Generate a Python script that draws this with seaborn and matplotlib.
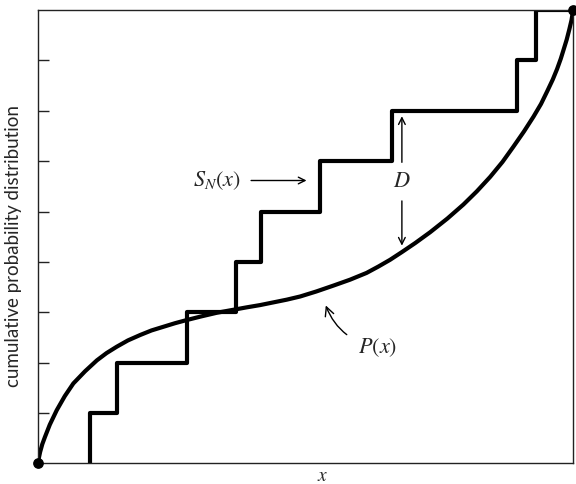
# Kolmogorov-Smirnov sketch: empirical CDF S_N(x) against model P(x).

import numpy as np
import seaborn as sns
import matplotlib.pyplot as plt

# sample points (fraction of x range) where S_N steps up by 1/N
sample_x = [0.097, 0.148, 0.279, 0.370, 0.416, 0.527, 0.662, 0.895, 0.930]

# model cumulative distribution P(x)
curve_x = [0.0, 0.002, 0.004, 0.008, 0.013, 0.022, 0.035, 0.05, 0.066, 0.088,
           0.110, 0.128, 0.147, 0.168, 0.191, 0.212, 0.234, 0.256, 0.278, 0.305,
           0.334, 0.362, 0.39, 0.415, 0.44, 0.465, 0.49, 0.52, 0.552, 0.583,
           0.614, 0.636, 0.658, 0.680, 0.705, 0.733, 0.765, 0.795, 0.82, 0.845,
           0.868, 0.888, 0.908, 0.926, 0.94, 0.952, 0.962, 0.970, 0.977, 0.982,
           0.988, 0.993, 0.997, 1.0]
curve_y = [0.0, 0.014, 0.025, 0.042, 0.058, 0.085, 0.117, 0.148, 0.176, 0.203,
           0.227, 0.243, 0.257, 0.271, 0.283, 0.293, 0.301, 0.309, 0.316, 0.324,
           0.332, 0.338, 0.344, 0.349, 0.355, 0.361, 0.368, 0.379, 0.392, 0.405,
           0.420, 0.434, 0.449, 0.466, 0.486, 0.510, 0.540, 0.571, 0.600, 0.632,
           0.665, 0.698, 0.732, 0.765, 0.793, 0.822, 0.847, 0.870, 0.893, 0.912,
           0.935, 0.958, 0.978, 1.0]

tick_levels = [1/9, 2/9, 3/9, 4/9, 5/9, 6/9, 7/9, 8/9]

sns.set_theme(style="white")
plt.rcParams['font.family'] = ['Liberation Serif', 'DejaVu Serif']
plt.rcParams['mathtext.fontset'] = 'stix'

fig = plt.figure(figsize=(5.76, 4.84), dpi=100)
ax = fig.add_axes([0.066, 0.043, 0.929, 0.936])

lw = 3.0
# empirical distribution as a step line
sns.ecdfplot(x=sample_x, ax=ax, color='black', linewidth=lw)
ax.plot([sample_x[-1], 1.0], [1.0, 1.0], color='black', linewidth=lw,
        solid_capstyle='butt')

# model distribution
sns.lineplot(x=curve_x, y=curve_y, ax=ax, color='black', linewidth=lw,
             sort=False, estimator=None)
ax.lines[-1].set_solid_joinstyle('round')

ax.scatter([0, 1], [0, 1], s=45, color='black', zorder=5, clip_on=False)

ax.set_xlim(0, 1)
ax.set_ylim(0, 1)

# labels and arrows
ax.text(0.335, 0.624, '$S_N(x)$', fontsize=16, ha='center', va='center')
ax.annotate('', xy=(0.507, 0.624), xytext=(0.393, 0.624),
            arrowprops=dict(arrowstyle='->', lw=1, color='black'))

ax.text(0.680, 0.62, '$D$', fontsize=16, ha='center', va='center')
ax.annotate('', xy=(0.680, 0.772), xytext=(0.680, 0.658),
            arrowprops=dict(arrowstyle='->', lw=1, color='black'))
ax.annotate('', xy=(0.680, 0.474), xytext=(0.680, 0.585),
            arrowprops=dict(arrowstyle='->', lw=1, color='black'))

ax.annotate('$P(x)$', xy=(0.536, 0.354), xytext=(0.635, 0.256),
            fontsize=16, ha='center', va='center',
            arrowprops=dict(arrowstyle='->', lw=1, color='black',
                            connectionstyle='arc3,rad=-0.3',
                            shrinkA=7, shrinkB=2))

ax.set_ylabel('cumulative probability distribution', fontsize=13.5,
              family=['Lato', 'DejaVu Sans'])
ax.yaxis.set_label_coords(-0.03, 0.48)
ax.set_xlabel('$x$', fontsize=14)
ax.xaxis.set_label_coords(0.531, -0.01)

ax.set_xticks([])
ax.set_yticks(tick_levels)
ax.set_yticklabels([])
ax.tick_params(axis='y', direction='in', length=8, width=1, left=True, colors='#222222')

for sp in ax.spines.values():
    sp.set_color('#222222')
    sp.set_linewidth(1.0)

fig.savefig('out.png', dpi=100)
